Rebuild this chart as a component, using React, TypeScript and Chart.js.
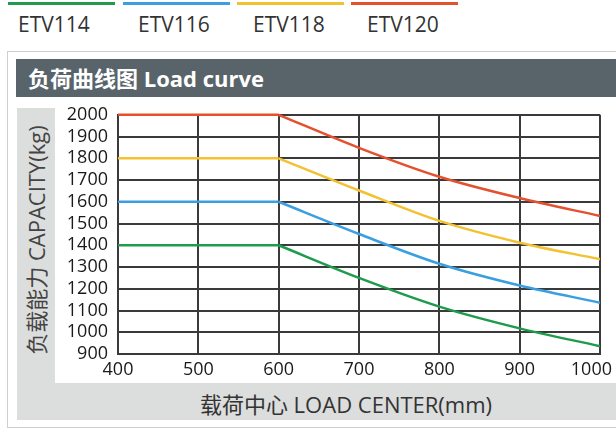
import { useEffect, useRef } from "react";
import { Chart, registerables } from "chart.js";

Chart.register(...registerables);

const loadCenters = [400, 500, 600, 700, 800, 900, 1000];
const etv114 = [1400, 1400, 1400, 1250, 1118, 1018, 936];
const etv116 = [1600, 1600, 1600, 1452, 1315, 1215, 1136];
const etv118 = [1800, 1800, 1800, 1652, 1512, 1412, 1336];
const etv120 = [2000, 2000, 2000, 1848, 1715, 1617, 1535];
const seriesNames = ["ETV114", "ETV116", "ETV118", "ETV120"];
const seriesColors = ["#1e9b4c", "#3a9fe0", "#f2c232", "#e4512f"];
const kneeCenter = 600;
const xRange = [400, 1000];
const yRange = [900, 2000];
const tickStep = 100;

const GRID = "#3a3a3a";
const TICK_FONT_FAMILY = "'Open Sans', 'DejaVu Sans', sans-serif";
const TICK_FONT_SIZE = 18;

const xLabelPlugin = {
  id: "xLabelPlugin",
  afterDraw(chart: any) {
    const scale = chart.scales.x;
    const ctx = chart.ctx;
    const maxRight = chart.width - 4;
    ctx.save();
    ctx.font = `${TICK_FONT_SIZE}px ${TICK_FONT_FAMILY}`;
    ctx.fillStyle = "#1a1a1a";
    ctx.textBaseline = "top";
    ctx.textAlign = "left";
    scale.ticks.forEach((t: any) => {
      const text = String(t.value);
      const w = ctx.measureText(text).width;
      const px = scale.getPixelForValue(t.value);
      let left = px - w / 2;
      if (left + w > maxRight) left = maxRight - w;
      ctx.fillText(text, left, chart.chartArea.bottom + 7);
    });
    ctx.restore();
  },
};

export default function App() {
  const ref = useRef<HTMLCanvasElement | null>(null);

  useEffect(() => {
    const all = [etv114, etv116, etv118, etv120];
    const datasets: any[] = [];
    all.forEach((vals, i) => {
      const pts = loadCenters.map((x, j) => ({ x, y: vals[j] }));
      const base = {
        label: seriesNames[i],
        borderColor: seriesColors[i],
        backgroundColor: seriesColors[i],
        borderWidth: 2.5,
        pointRadius: 0,
        fill: false,
        clip: 4,
      };
      datasets.push({ ...base, data: pts.filter((p) => p.x <= kneeCenter), tension: 0 });
      datasets.push({
        ...base,
        data: pts.filter((p) => p.x >= kneeCenter),
        cubicInterpolationMode: "monotone",
      });
    });

    const tickFont = { family: TICK_FONT_FAMILY, size: TICK_FONT_SIZE };
    const plain = (v: any) => String(v);
    const chart = new Chart(ref.current as HTMLCanvasElement, {
      type: "line",
      data: { datasets },
      plugins: [xLabelPlugin],
      options: {
        animation: false,
        responsive: false,
        maintainAspectRatio: false,
        layout: { padding: { top: 20, right: 16, left: 0, bottom: 0 } },
        plugins: { legend: { display: false }, tooltip: { enabled: false }, title: { display: false } },
        scales: {
          x: {
            type: "linear",
            min: xRange[0],
            max: xRange[1],
            ticks: { stepSize: tickStep, display: false, callback: plain },
            grid: { color: GRID, lineWidth: 2, drawTicks: false },
            border: { color: GRID, width: 2 },
            afterFit: (s: any) => {
              s.height = 29;
            },
          },
          y: {
            type: "linear",
            min: yRange[0],
            max: yRange[1],
            ticks: { stepSize: tickStep, color: "#1a1a1a", font: tickFont, padding: 10, autoSkip: false, callback: plain },
            grid: { color: GRID, lineWidth: 2, drawTicks: false },
            border: { color: GRID, width: 2 },
            afterFit: (s: any) => {
              s.width = 63;
            },
          },
        },
      },
    });
    return () => chart.destroy();
  }, []);

  const legendLines = [
    [8, 115],
    [123, 230],
    [237, 344],
    [351, 458],
  ];
  const legendText = [18, 138, 253, 367];

  return (
    <div
      style={{
        position: "fixed",
        left: 0,
        top: 0,
        width: 616,
        height: 429,
        background: "#ffffff",
        overflow: "hidden",
        fontFamily: "'Open Sans', 'Noto Sans CJK SC', sans-serif",
      }}
    >
      {legendLines.map((l, i) => (
        <div key={"l" + i}>
          <div
            style={{
              position: "absolute",
              left: l[0],
              top: 2,
              width: l[1] - l[0],
              height: 3,
              background: seriesColors[i],
            }}
          />
          <div
            style={{
              position: "absolute",
              left: legendText[i],
              top: 11,
              fontSize: 21,
              lineHeight: "26px",
              color: "#333",
              fontFamily: "'Open Sans', sans-serif",
            }}
          >
            {seriesNames[i]}
          </div>
        </div>
      ))}

      <div
        style={{
          position: "absolute",
          left: 7,
          top: 51,
          width: 640,
          height: 377,
          border: "1.5px solid #cfcfcf",
          boxSizing: "border-box",
        }}
      />
      <div
        style={{
          position: "absolute",
          left: 16,
          top: 59,
          width: 600,
          height: 38,
          background: "#58646a",
        }}
      />
      <div
        style={{
          position: "absolute",
          left: 28,
          top: 59,
          height: 38,
          lineHeight: "38px",
          color: "#ffffff",
          fontSize: 22,
          fontWeight: "bold",
          fontFamily: "'Open Sans', 'Noto Sans CJK SC', sans-serif",
          whiteSpace: "nowrap",
        }}
      >
        负荷曲线图 Load curve
      </div>

      <div
        style={{
          position: "absolute",
          left: 17,
          top: 108,
          width: 599,
          height: 312,
          background: "#dcdddd",
        }}
      />
      <div
        style={{
          position: "absolute",
          left: 55,
          top: 100,
          width: 561,
          height: 283,
          background: "#ffffff",
        }}
      />
      <canvas
        ref={ref}
        width={561}
        height={289}
        style={{ position: "absolute", left: 55, top: 94, width: 561, height: 289 }}
      />

      <div
        style={{
          position: "absolute",
          left: 35,
          top: 240,
          transform: "translate(-50%, -50%) rotate(-90deg)",
          whiteSpace: "nowrap",
          fontSize: 22,
          color: "#444",
          fontFamily: "'Open Sans', 'Noto Sans CJK SC', sans-serif",
        }}
      >
        负载能力 CAPACITY(kg)
      </div>
      <div
        style={{
          position: "absolute",
          left: 346,
          top: 403,
          transform: "translate(-50%, -50%)",
          whiteSpace: "nowrap",
          fontSize: 22,
          color: "#333",
          fontFamily: "'Open Sans', 'Noto Sans CJK SC', sans-serif",
        }}
      >
        载荷中心 LOAD CENTER(mm)
      </div>
    </div>
  );
}
